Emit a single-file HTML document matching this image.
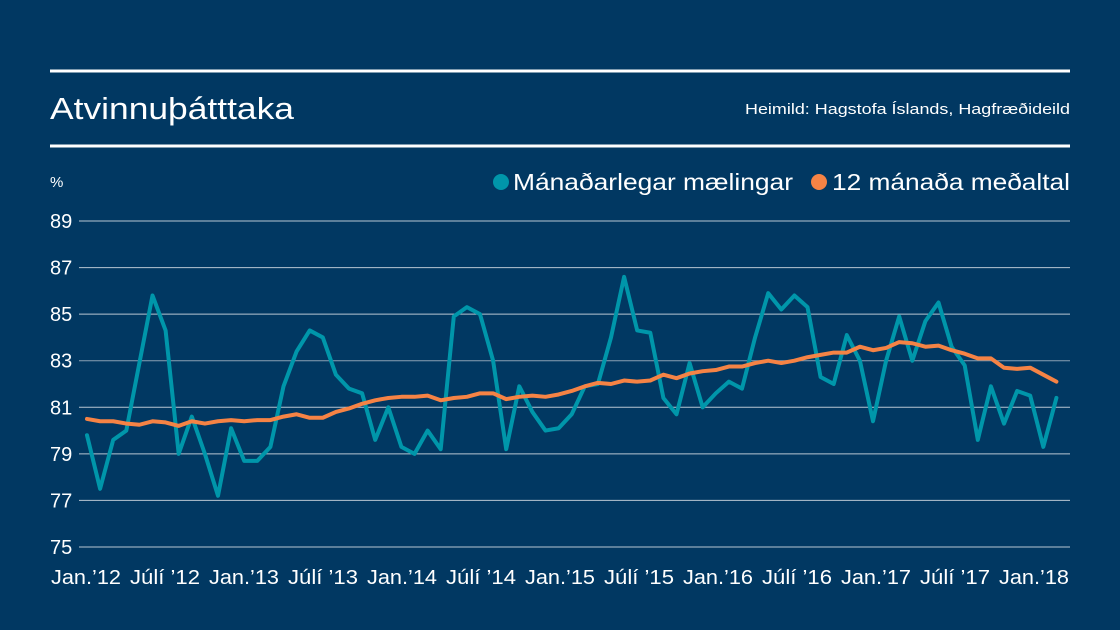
<!DOCTYPE html>
<html><head><meta charset="utf-8"><style>
body{margin:0;background:#013862;}
svg{display:block;font-family:"Liberation Sans",sans-serif;}
</style></head><body>
<svg width="1120" height="630">
<rect width="1120" height="630" fill="#013862"/>
<line x1="50" y1="71" x2="1070" y2="71" stroke="#fff" stroke-width="3"/>
<text x="50" y="119" fill="#fff" font-size="31" textLength="244" lengthAdjust="spacingAndGlyphs">Atvinnuþátttaka</text>
<text x="1070" y="114" fill="#fff" font-size="15" text-anchor="end" textLength="325" lengthAdjust="spacingAndGlyphs">Heimild: Hagstofa Íslands, Hagfræðideild</text>
<line x1="50" y1="146" x2="1070" y2="146" stroke="#fff" stroke-width="3"/>
<text x="50" y="187" fill="#fff" font-size="15">%</text>
<g>
<circle cx="501" cy="182" r="8" fill="#0096aa"/>
<text x="513" y="190" fill="#fff" font-size="23" textLength="280" lengthAdjust="spacingAndGlyphs">Mánaðarlegar mælingar</text>
<circle cx="819" cy="182" r="8" fill="#f58345"/>
<text x="832" y="190" fill="#fff" font-size="23" textLength="238" lengthAdjust="spacingAndGlyphs">12 mánaða meðaltal</text>
</g>
<g id="grid"></g><g id="xl"></g><g id="lines"></g>
</svg>
<script>
const yTicks=[75,77,79,81,83,85,87,89];
const xLabels=["Jan.’12","Júlí ’12","Jan.’13","Júlí ’13","Jan.’14","Júlí ’14","Jan.’15","Júlí ’15","Jan.’16","Júlí ’16","Jan.’17","Júlí ’17","Jan.’18"];
const monthly=[79.8,77.5,79.6,80.0,82.9,85.8,84.3,79.0,80.6,79.0,77.2,80.1,78.7,78.7,79.3,81.9,83.4,84.3,84.0,82.4,81.8,81.6,79.6,81.0,79.3,79.0,80.0,79.2,84.9,85.3,85.0,83.0,79.2,81.9,80.8,80.0,80.1,80.7,81.9,82.0,84.0,86.6,84.3,84.2,81.4,80.7,82.9,81.0,81.6,82.1,81.8,84.0,85.9,85.2,85.8,85.3,82.3,82.0,84.1,83.0,80.4,83.0,84.9,83.0,84.7,85.5,83.6,82.8,79.6,81.9,80.3,81.7,81.5,79.3,81.4];
const average=[80.5,80.4,80.4,80.3,80.25,80.4,80.35,80.2,80.4,80.3,80.4,80.45,80.4,80.45,80.45,80.6,80.7,80.55,80.55,80.8,80.95,81.15,81.3,81.4,81.45,81.45,81.5,81.3,81.4,81.45,81.6,81.6,81.35,81.45,81.5,81.45,81.55,81.7,81.9,82.05,82.0,82.15,82.1,82.15,82.4,82.25,82.45,82.55,82.6,82.75,82.75,82.9,83.0,82.9,83.0,83.15,83.25,83.35,83.35,83.6,83.45,83.55,83.8,83.75,83.6,83.65,83.45,83.3,83.1,83.1,82.7,82.65,82.7,82.4,82.1];
const NS="http://www.w3.org/2000/svg";
const X=i=>87+i*13.1;
const Y=v=>547-(v-75)*(326/14);
const grid=document.getElementById('grid');
yTicks.forEach(t=>{
 const l=document.createElementNS(NS,'line');
 l.setAttribute('x1',79);l.setAttribute('x2',1070);l.setAttribute('y1',Y(t));l.setAttribute('y2',Y(t));
 l.setAttribute('stroke',t===83?'#8a9fb3':'#b8c6d3');l.setAttribute('stroke-width',1);
 
 
 grid.appendChild(l);
 const tx=document.createElementNS(NS,'text');
 tx.setAttribute('x',50);tx.setAttribute('y',Y(t)+7);tx.setAttribute('fill','#fff');tx.setAttribute('font-size','20');
 tx.textContent=t;
 
 
 grid.appendChild(tx);
});
const xl=document.getElementById('xl');
xLabels.forEach((s,k)=>{
 const tx=document.createElementNS(NS,'text');
 tx.setAttribute('x',86+k*79);tx.setAttribute('y',584);tx.setAttribute('fill','#fff');tx.setAttribute('font-size','20');tx.setAttribute('text-anchor','middle');
 tx.setAttribute('textLength','70');tx.setAttribute('lengthAdjust','spacingAndGlyphs');
 tx.textContent=s;
 
 
 xl.appendChild(tx);
});
const lines=document.getElementById('lines');
function draw(arr,color,name){
 const p=document.createElementNS(NS,'polyline');
 p.setAttribute('points',arr.map((v,i)=>X(i)+','+Y(v)).join(' '));
 p.setAttribute('fill','none');p.setAttribute('stroke',color);p.setAttribute('stroke-width',4);p.setAttribute('stroke-linejoin','round');p.setAttribute('stroke-linecap','round');
 
 
 lines.appendChild(p);
}
draw(monthly,'#0096aa','monthly-series-line');
draw(average,'#f58345','average-series-line');
</script>
</body></html>
